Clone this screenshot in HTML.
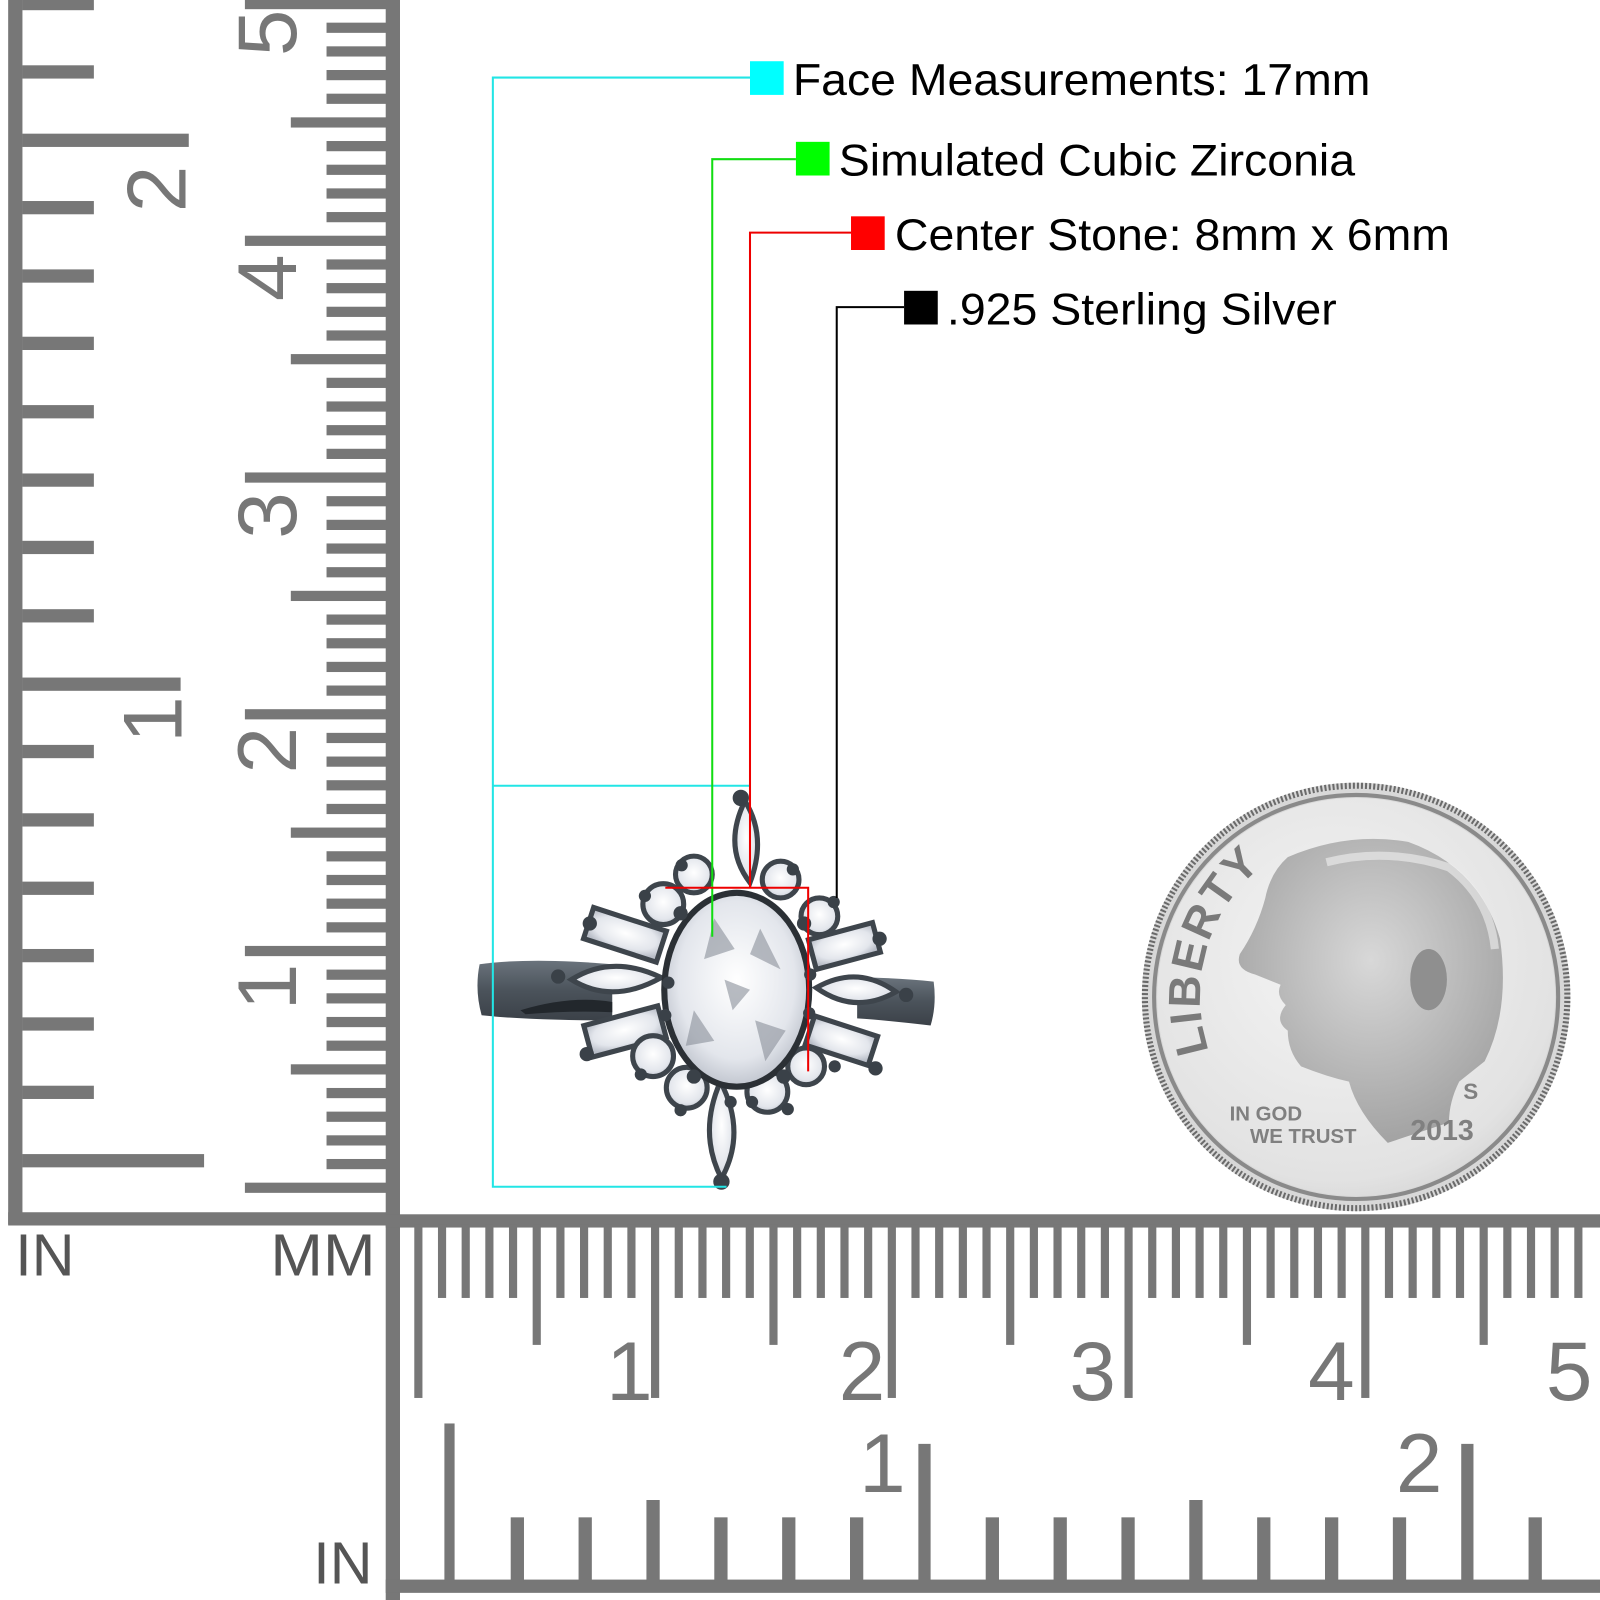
<!DOCTYPE html>
<html><head><meta charset="utf-8"><style>
html,body{margin:0;padding:0;background:#fff;}
svg{display:block;}
</style></head><body>
<svg width="1600" height="1600" viewBox="0 0 1568 1568" xmlns="http://www.w3.org/2000/svg" font-family="Liberation Sans, Arial, sans-serif">
<defs>
<radialGradient id="coin" cx="0.45" cy="0.4" r="0.7">
<stop offset="0" stop-color="#f4f4f4"/><stop offset="0.8" stop-color="#e2e2e2"/><stop offset="1" stop-color="#cfcfcf"/>
</radialGradient>
<radialGradient id="head" cx="0.5" cy="0.4" r="0.7">
<stop offset="0" stop-color="#d8d8d8"/><stop offset="1" stop-color="#9a9a9a"/>
</radialGradient>
<radialGradient id="gem" cx="0.5" cy="0.45" r="0.6">
<stop offset="0" stop-color="#ffffff"/><stop offset="0.7" stop-color="#e3e6ec"/><stop offset="1" stop-color="#b9bec8"/>
</radialGradient>
<linearGradient id="band" x1="0" y1="0" x2="0" y2="1">
<stop offset="0" stop-color="#6a737c"/><stop offset="0.5" stop-color="#4b535b"/><stop offset="1" stop-color="#3b4148"/>
</linearGradient>
<path id="libArc" d="M1185,1030 A165,165 0 0 1 1265,830"/>
</defs>

<g fill="#777">
<!-- left ruler frame -->
<rect x="8" y="0" width="14" height="1200"/>
<rect x="8" y="1188" width="384" height="13"/>
<rect x="378" y="0" width="14" height="1568"/>
<!-- inch ticks left -->
<rect x="22" y="-3" width="70" height="13"/>
<rect x="22" y="64" width="70" height="13"/>
<rect x="22" y="131" width="163" height="13"/>
<rect x="22" y="197" width="70" height="13"/>
<rect x="22" y="264" width="70" height="13"/>
<rect x="22" y="330" width="70" height="13"/>
<rect x="22" y="397" width="70" height="13"/>
<rect x="22" y="464" width="70" height="13"/>
<rect x="22" y="530" width="70" height="13"/>
<rect x="22" y="597" width="70" height="13"/>
<rect x="22" y="664" width="155" height="13"/>
<rect x="22" y="730" width="70" height="13"/>
<rect x="22" y="797" width="70" height="13"/>
<rect x="22" y="864" width="70" height="13"/>
<rect x="22" y="930" width="70" height="13"/>
<rect x="22" y="997" width="70" height="13"/>
<rect x="22" y="1064" width="70" height="13"/>
<rect x="22" y="1131" width="178" height="13"/>
</g>
<g id="mmticks" fill="#777"></g>
<g fill="#777" font-size="82">
<text transform="translate(182,208) rotate(-90)">2</text>
<text transform="translate(178,728) rotate(-90)">1</text>
<text transform="translate(290,55) rotate(-90)">5</text>
<text transform="translate(290,295) rotate(-90)">4</text>
<text transform="translate(290,528) rotate(-90)">3</text>
<text transform="translate(290,758) rotate(-90)">2</text>
<text transform="translate(290,990) rotate(-90)">1</text>
</g>
<!-- bottom ruler frame -->
<g fill="#777">
<rect x="378" y="1190" width="1190" height="13"/>
<rect x="378" y="1548" width="1190" height="13"/>
</g>
<g id="bt" fill="#777"></g>
<g fill="#777" font-size="82">
<text x="594" y="1372">1</text>
<text x="822" y="1372">2</text>
<text x="1048" y="1372">3</text>
<text x="1282" y="1372">4</text>
<text x="1515" y="1372">5</text>
<text x="842" y="1462">1</text>
<text x="1368" y="1462">2</text>
</g>
<g fill="#555" font-size="58">
<text x="15" y="1250">IN</text>
<text x="265" y="1250" textLength="103" lengthAdjust="spacingAndGlyphs">MM</text>
<text x="307" y="1552">IN</text>
</g>

<script>
(function(){
var ns="http://www.w3.org/2000/svg";
var g=document.getElementById('mmticks');
for(var k=0;k<=50;k++){var y=4+k*23.2;var x;
 if(k%10==0)x=240;else if(k%5==0)x=285;else x=320;
 if(y>1180)break;
 var r=document.createElementNS(ns,'rect');r.setAttribute('x',x);r.setAttribute('y',y-5);r.setAttribute('width',380-x);r.setAttribute('height',10);g.appendChild(r);}
var b=document.getElementById('bt');
for(var k=0;k<=50;k++){var x=410+k*23.2;if(x>1568)break;var h;
 if(k%10==0)h=1370;else if(k%5==0)h=1318;else h=1272;
 var r=document.createElementNS(ns,'rect');r.setAttribute('x',x-4);r.setAttribute('y',1200);r.setAttribute('width',8);r.setAttribute('height',h-1200);b.appendChild(r);}
for(var k=-7;k<=10;k++){var x=906+k*66.5;if(x<430||x>1568)continue;var top=1487,w=13;
 if(k==-7){top=1395;w=10;}else if(k==0||k==8){top=1415;w=12;}else if(k==4||k==-4){top=1470;}
 var r=document.createElementNS(ns,'rect');r.setAttribute('x',x-w/2);r.setAttribute('y',top);r.setAttribute('width',w);r.setAttribute('height',1550-top);b.appendChild(r);}
})();
</script>

<!-- ring -->
<g>
<path d="M470,945 Q520,938 600,945 L600,1000 Q520,1000 472,995 Q465,970 470,945Z" fill="url(#band)"/>
<path d="M840,958 Q880,958 915,962 Q918,985 912,1005 Q870,1000 840,998Z" fill="url(#band)"/>
<path d="M510,990 Q560,975 600,982 L600,992 Q560,990 515,994Z" fill="#22272c"/>
<g stroke="#3e454c" stroke-width="5" fill="url(#gem)">
<!-- baguettes -->
<rect x="575" y="900" width="75" height="32" transform="rotate(18 612 916)"/>
<rect x="575" y="995" width="75" height="32" transform="rotate(-15 612 1011)"/>
<rect x="795" y="912" width="65" height="30" transform="rotate(-15 828 927)"/>
<rect x="792" y="1005" width="65" height="30" transform="rotate(18 825 1020)"/>
<!-- marquises -->
<path d="M560,960 Q600,935 648,958 Q600,985 560,960Z"/>
<path d="M800,968 Q840,945 878,972 Q838,995 800,968Z"/>
<path d="M730,785 Q752,820 735,865 Q708,830 730,785Z"/>
<path d="M707,1155 Q684,1110 706,1060 Q732,1110 707,1155Z"/>
<!-- small rounds -->
<circle cx="680" cy="857" r="18"/>
<circle cx="765" cy="862" r="18"/>
<circle cx="650" cy="886" r="20"/>
<circle cx="803" cy="898" r="18"/>
<circle cx="640" cy="1035" r="20"/>
<circle cx="673" cy="1066" r="20"/>
<circle cx="752" cy="1070" r="20"/>
<circle cx="790" cy="1045" r="18"/>
</g>
<ellipse cx="722" cy="970" rx="74" ry="98" fill="#2b3035"/>
<ellipse cx="722" cy="970" rx="68" ry="92" fill="url(#gem)"/>
<g fill="#8a909a" opacity="0.6">
<path d="M700,900 L720,930 L690,940Z"/><path d="M745,910 L765,950 L735,935Z"/><path d="M680,990 L700,1020 L672,1025Z"/><path d="M740,1000 L770,1010 L750,1040Z"/><path d="M710,960 L735,970 L718,990Z"/>
</g>
<g fill="#3a4148">
<circle cx="726" cy="782" r="8"/><circle cx="707" cy="1158" r="8"/>
<circle cx="668" cy="848" r="6"/><circle cx="777" cy="852" r="6"/>
<circle cx="632" cy="878" r="6"/><circle cx="817" cy="884" r="6"/>
<circle cx="578" cy="905" r="7"/><circle cx="862" cy="920" r="7"/>
<circle cx="547" cy="957" r="7"/><circle cx="888" cy="975" r="7"/>
<circle cx="575" cy="1033" r="7"/><circle cx="858" cy="1047" r="7"/>
<circle cx="628" cy="1053" r="6"/><circle cx="818" cy="1045" r="6"/>
<circle cx="667" cy="1088" r="6"/><circle cx="772" cy="1087" r="6"/>
<circle cx="667" cy="895" r="7"/><circle cx="788" cy="905" r="7"/>
<circle cx="655" cy="963" r="6"/><circle cx="652" cy="995" r="6"/>
<circle cx="794" cy="955" r="6"/><circle cx="793" cy="993" r="6"/>
<circle cx="680" cy="1055" r="7"/><circle cx="768" cy="1055" r="7"/>
<circle cx="716" cy="1080" r="6"/><circle cx="737" cy="1080" r="6"/>
</g>
</g>

<!-- dime -->
<g>
<circle cx="1329" cy="977" r="210" fill="#d8d8d8"/>
<circle cx="1329" cy="977" r="207" fill="none" stroke="#6a6a6a" stroke-width="6" stroke-dasharray="2 2"/>
<circle cx="1329" cy="977" r="198" fill="none" stroke="#8a8a8a" stroke-width="4"/>
<circle cx="1329" cy="977" r="195" fill="url(#coin)"/>
<path d="M1262,840 Q1320,815 1380,825 Q1450,850 1470,920 Q1480,990 1455,1040 L1430,1060 Q1420,1080 1420,1100 L1360,1120 Q1330,1090 1322,1060 Q1300,1055 1275,1045 Q1262,1030 1262,1010 Q1248,1000 1260,985 Q1250,975 1255,965 L1230,955 Q1210,950 1215,935 Q1232,910 1240,880 Q1245,855 1262,840Z" fill="url(#head)"/>
<path d="M1300,845 Q1360,830 1420,850 Q1460,880 1465,930" fill="none" stroke="#f0f0f0" stroke-width="8" opacity="0.6"/>
<ellipse cx="1400" cy="960" rx="18" ry="30" fill="#8f8f8f"/>
<text font-size="44" font-weight="bold" fill="#7a7a7a" letter-spacing="2"><textPath href="#libArc">LIBERTY</textPath></text>
<text x="1205" y="1098" font-size="20" font-weight="bold" fill="#808080">IN GOD</text>
<text x="1225" y="1120" font-size="20" font-weight="bold" fill="#808080">WE TRUST</text>
<text x="1382" y="1117" font-size="28" font-weight="bold" fill="#808080">2013</text>
<text x="1434" y="1077" font-size="22" font-weight="bold" fill="#808080">S</text>
</g>

<!-- connectors -->
<g fill="none" stroke-width="2">
<path d="M735,76 H483 V1163 H712 M483,770 H735" stroke="#22e5e5"/>
<path d="M780,156 H698 V918" stroke="#11dd11"/>
<path d="M834,228 H735 V870 M652,870 H792 V1050" stroke="#ee0000"/>
<path d="M886,301 H820 V880" stroke="#000"/>
</g>
<rect x="735" y="60" width="33" height="33" fill="#00ffff"/>
<rect x="780" y="139" width="33" height="33" fill="#00ff00"/>
<rect x="834" y="212" width="33" height="33" fill="#ff0000"/>
<rect x="886" y="285" width="33" height="33" fill="#000"/>
<g font-size="44" fill="#000">
<text x="777" y="93" textLength="566" lengthAdjust="spacingAndGlyphs">Face Measurements: 17mm</text>
<text x="822" y="172" textLength="506" lengthAdjust="spacingAndGlyphs">Simulated Cubic Zirconia</text>
<text x="877" y="245" textLength="544" lengthAdjust="spacingAndGlyphs">Center Stone: 8mm x 6mm</text>
<text x="928" y="318" textLength="382" lengthAdjust="spacingAndGlyphs">.925 Sterling Silver</text>
</g>
</svg>
</body></html>
